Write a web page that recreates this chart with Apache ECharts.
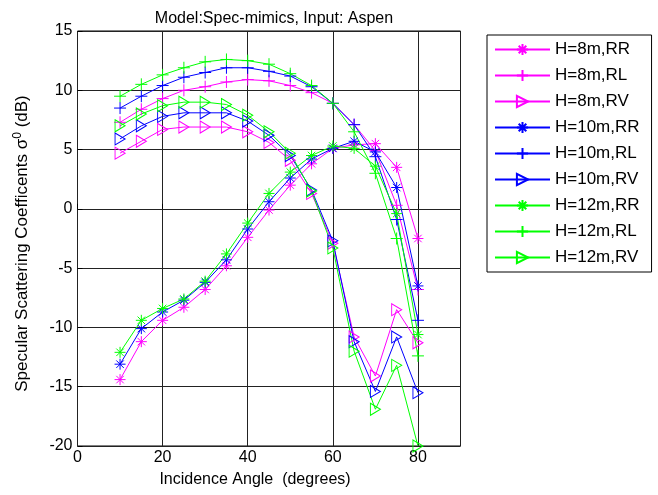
<!DOCTYPE html>
<html>
<head>
<meta charset="utf-8">
<script src="https://cdn.jsdelivr.net/npm/echarts@6/dist/echarts.min.js"></script>
<style>
  html, body { margin: 0; padding: 0; background: #fff; }
  #chart { width: 658px; height: 495px; }
</style>
</head>
<body>
<div id="chart"></div>
<script>
// Incidence angles (degrees)
const angles = [10, 15, 20, 25, 30, 35, 40, 45, 50, 55, 60, 65, 70, 75, 80];

// Specular scattering coefficients (dB), RR polarisation
const rrH8  = [-14.4, -11.2, -9.4, -8.3, -6.8, -4.8, -2.4, -0.1, 2.0, 3.8, 5.1, 5.4, 5.5, 3.5, -2.5];
const rrH10 = [-13.1, -10.1, -8.7, -7.7, -6.2, -4.3, -1.7, 0.6, 2.6, 4.2, 5.1, 5.7, 4.8, 1.8, -6.5];
const rrH12 = [-12.1, -9.4, -8.4, -7.6, -6.1, -3.8, -1.2, 1.3, 3.1, 4.5, 5.3, 5.1, 3.6, -0.4, -10.6];

// RL polarisation
const rlH8  = [7.3, 8.4, 9.3, 10.0, 10.3, 10.7, 10.9, 10.8, 10.4, 9.8, 8.9, 7.1, 4.9, 0.3, -6.8];
const rlH10 = [8.5, 9.5, 10.4, 11.1, 11.5, 11.9, 11.9, 11.6, 11.2, 10.3, 8.9, 7.1, 4.4, -0.9, -9.4];
const rlH12 = [9.5, 10.5, 11.3, 11.9, 12.4, 12.6, 12.5, 12.2, 11.4, 10.4, 8.9, 6.5, 3.0, -2.5, -12.4];

// RV polarisation
const rvH8  = [4.7, 5.7, 6.7, 6.9, 6.9, 6.9, 6.5, 5.6, 4.1, 1.3, -2.9, -10.8, -14.1, -8.5, -11.3];
const rvH10 = [5.9, 7.0, 7.8, 8.1, 8.1, 8.1, 7.4, 6.2, 4.5, 1.6, -2.7, -11.2, -15.4, -10.8, -15.5];
const rvH12 = [7.0, 8.0, 8.7, 9.0, 9.0, 8.8, 7.9, 6.5, 4.7, 1.5, -3.3, -12.0, -16.9, -13.2, -20.0];

const seriesNames = ['H=8m,RR', 'H=8m,RL', 'H=8m,RV',
                     'H=10m,RR', 'H=10m,RL', 'H=10m,RV',
                     'H=12m,RR', 'H=12m,RL', 'H=12m,RV'];
const seriesValues = [rrH8, rlH8, rvH8, rrH10, rlH10, rvH10, rrH12, rlH12, rvH12];

const MAGENTA = '#ff00ff', BLUE = '#0000ff', GREEN = '#00ff00';
const seriesColors = [MAGENTA, MAGENTA, MAGENTA, BLUE, BLUE, BLUE, GREEN, GREEN, GREEN];

// Stroke-only marker shapes: asterisk, plus, right-pointing triangle
const STAR = 'path://M0,5L10,5M5,0L5,10M1.6,1.6L8.4,8.4M1.6,8.4L8.4,1.6';
const PLUS = 'path://M0,5L10,5M5,0L5,10';
const TRI  = 'path://M0,0L10,5L0,10Z';
const markers = [STAR, PLUS, TRI, STAR, PLUS, TRI, STAR, PLUS, TRI];
const markerSizes = [11, 12, [10, 12], 11, 12, [10, 12], 11, 12, [10, 12]];

const FONT = '"Liberation Sans", Arial, sans-serif';

const series = seriesNames.map((name, i) => ({
  name: name,
  type: 'line',
  data: angles.map((a, j) => [a, seriesValues[i][j]]),
  symbol: markers[i],
  symbolSize: markerSizes[i],
  showAllSymbol: true,
  lineStyle: { color: seriesColors[i], width: 1 },
  itemStyle: { color: 'none', borderColor: seriesColors[i], borderWidth: 1 },
  emphasis: { disabled: true },
  animation: false
}));

const chart = echarts.init(document.getElementById('chart'), null, { renderer: 'canvas' });
chart.setOption({
  animation: false,
  backgroundColor: '#fff',
  textStyle: { fontFamily: FONT },
  title: {
    text: 'Model:Spec-mimics, Input: Aspen',
    left: 269, top: 6, textAlign: 'center',
    textStyle: { fontFamily: FONT, fontSize: 16, fontWeight: 'normal', color: '#000' }
  },
  grid: {
    left: 77.5, top: 31, right: 197.5, bottom: 49,
    show: true, borderColor: '#000', borderWidth: 1, backgroundColor: '#fff'
  },
  legend: {
    orient: 'vertical',
    left: 487, top: 35,
    padding: [6, 12, 6, 7],
    itemGap: 9,
    itemWidth: 55, itemHeight: 14,
    backgroundColor: '#fff',
    borderColor: '#000', borderWidth: 1, borderRadius: 0,
    textStyle: { fontFamily: FONT, fontSize: 17, color: '#000' },
    data: seriesNames
  },
  xAxis: {
    type: 'value', min: 0, max: 90, interval: 20,
    name: 'Incidence Angle  (degrees)',
    nameLocation: 'middle', nameGap: 26,
    nameTextStyle: { fontFamily: FONT, fontSize: 16, color: '#000', padding: [0, 28, 0, 0] },
    axisLine: { show: false },
    axisTick: { inside: true, length: 5, lineStyle: { color: '#000' } },
    axisLabel: { fontFamily: FONT, fontSize: 16, color: '#000', margin: 4, showMaxLabel: false,
                 formatter: v => (v % 20 === 0 ? String(v) : '') },
    splitLine: { show: true, lineStyle: { color: '#222', width: 1 } }
  },
  yAxis: {
    type: 'value', min: -20, max: 15, interval: 5,
    name: 'Specular Scattering Coefficents σ{sup|0} (dB)',
    nameLocation: 'middle', nameGap: 45, nameRotate: 90,
    nameTextStyle: {
      fontFamily: FONT, fontSize: 17, color: '#000', padding: [0, 10, 0, 0],
      rich: { sup: { fontFamily: FONT, fontSize: 12, color: '#000', padding: [0, 0, 9, 0] } }
    },
    axisLine: { show: false },
    axisTick: { inside: true, length: 5, lineStyle: { color: '#000' } },
    axisLabel: { fontFamily: FONT, fontSize: 16, color: '#000', margin: 5 },
    splitLine: { show: true, lineStyle: { color: '#222', width: 1 } }
  },
  series: series
});
</script>
</body>
</html>
